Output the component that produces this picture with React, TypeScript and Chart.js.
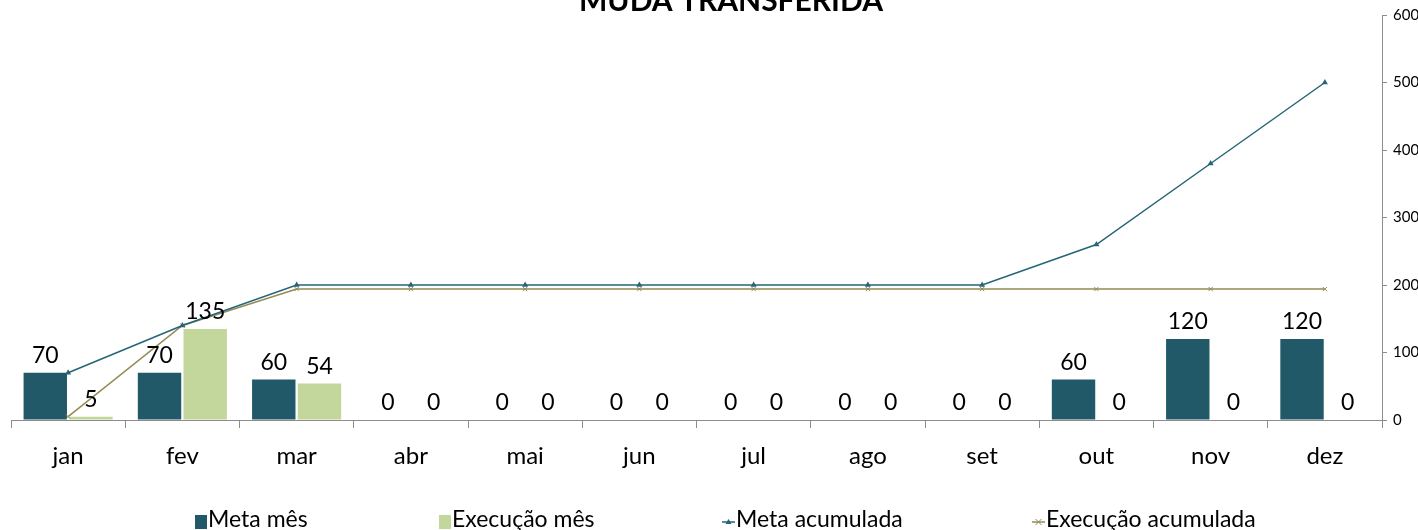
import React, { useEffect, useRef } from "react";
import { Chart, registerables } from "chart.js";

Chart.register(...registerables);

const categories = ["jan", "fev", "mar", "abr", "mai", "jun", "jul", "ago", "set", "out", "nov", "dez"];
const metaMes = [70, 70, 60, 0, 0, 0, 0, 0, 0, 60, 120, 120];
const execucaoMes = [5, 135, 54, 0, 0, 0, 0, 0, 0, 0, 0, 0];
const metaAcumulada = [70, 140, 200, 200, 200, 200, 200, 200, 200, 260, 380, 500];
const execucaoAcumulada = [5, 140, 194, 194, 194, 194, 194, 194, 194, 194, 194, 194];
const seriesNames = ["Meta mês", "Execução mês", "Meta acumulada", "Execução acumulada"];
const chartTitle = "MUDA TRANSFERIDA";

const FONT = "Lato, 'Open Sans', sans-serif";
const DARK = "#215968";
const LIGHT = "#c3d69b";
const LINE1 = "#256577";
const LINE2 = "#948a54";
const AXIS = "#8c8c8c";

const overlayPlugin = {
  id: "overlay",
  afterDatasetsDraw(chart: any) {
    const ctx = chart.ctx;
    ctx.save();
    ctx.fillStyle = "#000";
    ctx.font = `23px ${FONT}`;
    ctx.textAlign = "center";
    ctx.textBaseline = "alphabetic";
    [0, 1].forEach((di) => {
      const meta = chart.getDatasetMeta(di);
      const data = chart.data.datasets[di].data;
      meta.data.forEach((el: any, i: number) => {
        ctx.fillText(String(data[i]), el.x, el.y - 10);
      });
    });
    ctx.restore();
  },
  afterDraw(chart: any) {
    const ctx = chart.ctx;
    ctx.save();
    ctx.fillStyle = "#000";
    ctx.font = `bold 30px ${FONT}`;
    ctx.textAlign = "center";
    ctx.textBaseline = "alphabetic";
    ctx.fillText(chartTitle, 731, 11);
    const starts = [195, 439, 722, 1032];
    const y = 520;
    ctx.font = `23px ${FONT}`;
    ctx.textAlign = "left";
    ctx.textBaseline = "middle";
    seriesNames.forEach((name, i) => {
      const x = starts[i];
      let tx = x;
      if (i < 2) {
        ctx.fillStyle = i === 0 ? DARK : LIGHT;
        ctx.fillRect(x, y - 5, 12, 14);
        tx = x + 13;
      } else {
        const c = i === 2 ? LINE1 : LINE2;
        ctx.strokeStyle = c;
        ctx.fillStyle = c;
        ctx.lineWidth = 1.5;
        ctx.beginPath();
        ctx.moveTo(x, y + 2);
        ctx.lineTo(x + 13, y + 2);
        ctx.stroke();
        const cx = x + 6.5;
        if (i === 2) {
          ctx.beginPath();
          ctx.moveTo(cx, y - 1);
          ctx.lineTo(cx + 3, y + 4);
          ctx.lineTo(cx - 3, y + 4);
          ctx.closePath();
          ctx.fill();
        } else {
          ctx.lineWidth = 1;
          ctx.beginPath();
          ctx.moveTo(cx - 3, y - 1);
          ctx.lineTo(cx + 3, y + 5);
          ctx.moveTo(cx + 3, y - 1);
          ctx.lineTo(cx - 3, y + 5);
          ctx.stroke();
        }
        tx = x + 14;
      }
      ctx.fillStyle = "#000";
      ctx.fillText(name, tx, y);
    });
    ctx.restore();
  },
};

export default function App() {
  const ref = useRef<HTMLCanvasElement>(null);
  useEffect(() => {
    if (!ref.current) return;
    const chart = new Chart(ref.current, {
      type: "bar",
      data: {
        labels: categories,
        datasets: [
          {
            type: "bar",
            label: seriesNames[0],
            data: metaMes,
            backgroundColor: DARK,
            categoryPercentage: 0.8,
            barPercentage: 0.95,
            order: 2,
          },
          {
            type: "bar",
            label: seriesNames[1],
            data: execucaoMes,
            backgroundColor: LIGHT,
            categoryPercentage: 0.8,
            barPercentage: 0.95,
            order: 2,
          },
          {
            type: "line",
            label: seriesNames[2],
            data: metaAcumulada,
            borderColor: LINE1,
            backgroundColor: LINE1,
            borderWidth: 1.5,
            pointStyle: "triangle",
            pointRadius: 3.5,
            pointBorderWidth: 0,
            tension: 0,
            order: 0,
          },
          {
            type: "line",
            label: seriesNames[3],
            data: execucaoAcumulada,
            borderColor: LINE2,
            backgroundColor: LINE2,
            borderWidth: 1.5,
            pointStyle: "crossRot",
            pointRadius: 3,
            pointBorderWidth: 1,
            tension: 0,
            order: 1,
          },
        ] as any,
      },
      options: {
        responsive: false,
        animation: false,
        layout: { padding: { top: 15, left: 11, right: 0, bottom: 0 } },
        plugins: {
          legend: { display: false },
          title: { display: false },
          tooltip: { enabled: false },
        },
        scales: {
          x: {
            afterFit: (s: any) => {
              s.height = 110;
            },
            grid: {
              offset: true,
              drawOnChartArea: false,
              tickLength: 8,
              color: AXIS,
            },
            border: { color: AXIS },
            ticks: {
              color: "#000",
              font: { family: FONT, size: 24 },
              padding: 14,
            },
          },
          y: {
            position: "right",
            min: 0,
            max: 600,
            afterFit: (s: any) => {
              s.width = 36;
            },
            grid: {
              drawOnChartArea: false,
              tickLength: 5,
              color: AXIS,
            },
            border: { color: AXIS },
            ticks: {
              stepSize: 100,
              color: "#000",
              font: { family: FONT, size: 15 },
              padding: 6,
            },
          },
        },
      } as any,
      plugins: [overlayPlugin],
    });
    return () => chart.destroy();
  }, []);
  return (
    <div style={{ position: "absolute", left: 0, top: 0, width: 1418, height: 530, background: "#fff" }}>
      <canvas ref={ref} width={1418} height={530} />
    </div>
  );
}
